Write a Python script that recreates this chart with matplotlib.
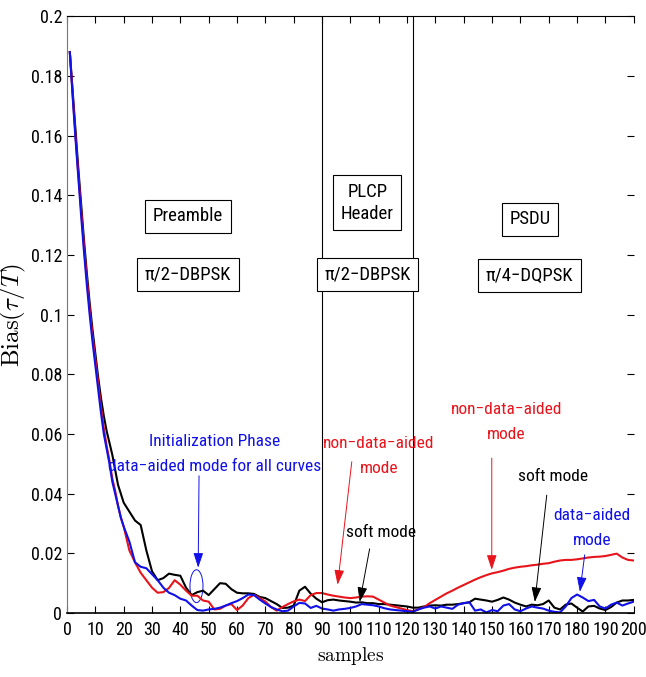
import numpy as np
import matplotlib
matplotlib.use("Agg")
import matplotlib.pyplot as plt
from matplotlib.patches import Ellipse
from matplotlib import font_manager

# a narrow face if one is there, else plain Liberation Sans
installed = {f.name for f in font_manager.fontManager.ttflist}
narrow = [f for f in ['Roboto Condensed', 'Liberation Sans Narrow', 'Open Sans Condensed'] if f in installed]
plt.rcParams['font.family'] = narrow + ['Liberation Sans', 'DejaVu Sans']
plt.rcParams['mathtext.fontset'] = 'cm'
fs = 12.5 if narrow else 11

# sample positions
samples = list(range(1, 21)) + list(range(22, 201, 2))

# soft mode (black)
soft = [0.188, 0.175, 0.162, 0.149, 0.137, 0.125, 0.114, 0.104, 0.095, 0.087,
        0.079, 0.072, 0.066, 0.061, 0.057, 0.053, 0.048, 0.043, 0.040, 0.037,
        0.034, 0.031, 0.0295, 0.021, 0.014, 0.011, 0.0117, 0.0132, 0.0128, 0.0125,
        0.0085, 0.006, 0.007, 0.0075, 0.006, 0.008, 0.010, 0.0098, 0.008, 0.0068,
        0.0066, 0.0066, 0.0064, 0.0054, 0.005, 0.004, 0.003, 0.0017, 0.0018, 0.0025,
        0.0075, 0.0088, 0.0065, 0.0048, 0.0036, 0.0043, 0.0045, 0.0042, 0.004, 0.0038,
        0.0035, 0.0036, 0.0033, 0.0033, 0.003, 0.003, 0.0028, 0.0026, 0.0024, 0.0022,
        0.0018, 0.0018, 0.0022, 0.0025, 0.0026, 0.0025, 0.0028, 0.0028, 0.003, 0.0033,
        0.0036, 0.0048, 0.0045, 0.0042, 0.0038, 0.0044, 0.0052, 0.0045, 0.0035, 0.0028,
        0.0022, 0.0028, 0.0026, 0.003, 0.0042, 0.0018, 0.0012, 0.0028, 0.0032, 0.0018,
        0.0005, 0.0022, 0.0024, 0.0015, 0.001, 0.002, 0.0035, 0.0042, 0.0042, 0.0044]

# non-data-aided mode (red)
nda = [0.188, 0.174, 0.160, 0.147, 0.135, 0.123, 0.112, 0.102, 0.093, 0.085,
       0.077, 0.069, 0.062, 0.056, 0.051, 0.045, 0.041, 0.036, 0.032, 0.029,
       0.021, 0.017, 0.0135, 0.011, 0.0085, 0.0068, 0.007, 0.0084, 0.011, 0.0095,
       0.0075, 0.0058, 0.0058, 0.0042, 0.0038, 0.0012, 0.0014, 0.0025, 0.003, 0.001,
       0.0025, 0.005, 0.0061, 0.005, 0.0039, 0.002, 0.0008, 0.002, 0.003, 0.0039,
       0.0045, 0.004, 0.006, 0.0067, 0.0067, 0.0062, 0.0058, 0.0055, 0.0052, 0.005,
       0.0052, 0.0055, 0.0056, 0.0055, 0.0045, 0.0035, 0.0025, 0.002, 0.0015, 0.001,
       0.0006, 0.0012, 0.002, 0.0033, 0.0044, 0.0055, 0.0066, 0.0075, 0.0085, 0.0094,
       0.0103, 0.0112, 0.012, 0.0127, 0.0133, 0.0137, 0.0142, 0.0148, 0.0152, 0.0155,
       0.0157, 0.016, 0.0162, 0.0165, 0.0167, 0.0172, 0.0176, 0.0178, 0.0178, 0.018,
       0.0183, 0.0186, 0.0188, 0.0189, 0.0191, 0.0195, 0.0199, 0.0186, 0.0178, 0.0176]

# data-aided mode (blue)
da = [0.188, 0.173, 0.159, 0.146, 0.133, 0.121, 0.110, 0.100, 0.091, 0.083,
      0.075, 0.067, 0.060, 0.055, 0.050, 0.044, 0.040, 0.036, 0.032, 0.029,
      0.024, 0.017, 0.0155, 0.015, 0.013, 0.011, 0.0085, 0.0068, 0.006, 0.0048,
      0.0042, 0.0025, 0.001, 0.0008, 0.0012, 0.0014, 0.0018, 0.0025, 0.0033, 0.004,
      0.005, 0.0062, 0.006, 0.0045, 0.0032, 0.002, 0.0012, 0.0006, 0.0008, 0.0022,
      0.0034, 0.0032, 0.0017, 0.0024, 0.0015, 0.0012, 0.0008, 0.0012, 0.0014, 0.0017,
      0.0022, 0.003, 0.0028, 0.0026, 0.0022, 0.0016, 0.0012, 0.001, 0.0008, 0.0006,
      0.0004, 0.0012, 0.0018, 0.0022, 0.0015, 0.0022, 0.0018, 0.0014, 0.0028, 0.0033,
      0.0036, 0.0008, 0.0012, 0.0002, 0.001, 0.0006, 0.0025, 0.003, 0.0012, 0.0006,
      0.0015, 0.0022, 0.0018, 0.0015, 0.0008, 0.0004, 0.0002, 0.0022, 0.005, 0.0062,
      0.0052, 0.004, 0.0044, 0.0022, 0.0015, 0.0028, 0.0035, 0.0025, 0.0032, 0.0038]

xticks = list(range(0, 201, 10))
yticks = [0, 0.02, 0.04, 0.06, 0.08, 0.1, 0.12, 0.14, 0.16, 0.18, 0.2]
ylabels = ['0', '0.02', '0.04', '0.06', '0.08', '0.1', '0.12', '0.14', '0.16', '0.18', '0.2']
boundaries = [90, 122]

RED = '#e8141b'
BLUE = '#1010e8'

fig = plt.figure(figsize=(6.46, 6.77), dpi=100)
ax = fig.add_axes([0.1037, 0.0945, 0.8773, 0.8815])

ax.plot(samples, soft, color='black', lw=1.5)
ax.plot(samples, nda, color=RED, lw=1.5)
ax.plot(samples, da, color=BLUE, lw=1.5)

for b in boundaries:
    ax.axvline(b, color='black', lw=0.8)

ax.set_xlim(0, 200)
ax.set_ylim(0, 0.2)
ax.set_xticks(xticks)
ax.set_yticks(yticks)
ax.set_yticklabels(ylabels)
ax.tick_params(direction='in', top=True, right=True, labelsize=13, length=5, width=0.8)
ax.tick_params(axis='x', pad=6)
ax.spines['right'].set_visible(False)
ax.spines['left'].set_color('#777777')
ax.spines['top'].set_linewidth(0.8)
ax.spines['bottom'].set_linewidth(1.2)

ax.set_xlabel(r'$\mathrm{samples}$', fontsize=14, labelpad=4)
ax.set_ylabel(r'$\mathrm{Bias}(\tau/T)$', fontsize=18, labelpad=2)

bfs = 13.5 if narrow else 11.5
box = dict(boxstyle='square,pad=0.4', fc='white', ec='black', lw=0.8)
ax.text(42.7, 0.133, 'Preamble', ha='center', va='center', fontsize=bfs, bbox=box)
ax.text(42.7, 0.1135, '\u03c0/2\u2212DBPSK', ha='center', va='center', fontsize=bfs, bbox=box)
ax.text(106, 0.1375, 'PLCP\nHeader', ha='center', va='center', fontsize=bfs, bbox=box,
        linespacing=1.3)
ax.text(106, 0.1135, '\u03c0/2\u2212DBPSK', ha='center', va='center', fontsize=bfs, bbox=box)
ax.text(163.3, 0.132, 'PSDU', ha='center', va='center', fontsize=bfs, bbox=box)
ax.text(163.3, 0.113, '\u03c0/4\u2212DQPSK', ha='center', va='center', fontsize=bfs, bbox=box)

head = '-|>,head_length=0.9,head_width=0.3'
ls = 1.9

ax.text(52, 0.0533, 'Initialization Phase\ndata\u2212aided mode for all curves',
        color=BLUE, ha='center', va='center', fontsize=fs, linespacing=ls)
ax.annotate('', xy=(46.3, 0.0152), xytext=(46.6, 0.046),
            arrowprops=dict(arrowstyle=head, color=BLUE, lw=0.7, shrinkA=0, shrinkB=0))
ax.add_patch(Ellipse((45.7, 0.009), 4.6, 0.011, fill=False, ec=BLUE, lw=0.7))

ax.text(110, 0.0526, 'non\u2212data\u2212aided\nmode', color=RED, ha='center',
        va='center', fontsize=fs, linespacing=ls)
ax.annotate('', xy=(95.5, 0.0095), xytext=(100.5, 0.0507),
            arrowprops=dict(arrowstyle=head, color=RED, lw=0.7, shrinkA=0, shrinkB=0))

ax.text(110.8, 0.027, 'soft mode', color='black', ha='center', va='center', fontsize=fs)
ax.annotate('', xy=(103.3, 0.0037), xytext=(106.8, 0.0215),
            arrowprops=dict(arrowstyle=head, color='black', lw=0.7, shrinkA=0, shrinkB=0))

ax.text(155, 0.064, 'non\u2212data\u2212aided\nmode', color=RED, ha='center',
        va='center', fontsize=fs, linespacing=ls)
ax.annotate('', xy=(149.9, 0.0145), xytext=(149.9, 0.0519),
            arrowprops=dict(arrowstyle=head, color=RED, lw=0.7, shrinkA=0, shrinkB=0))

ax.text(171.5, 0.0458, 'soft mode', color='black', ha='center', va='center', fontsize=fs)
ax.annotate('', xy=(165.1, 0.0037), xytext=(169.3, 0.0395),
            arrowprops=dict(arrowstyle=head, color='black', lw=0.7, shrinkA=0, shrinkB=0))

ax.text(185.3, 0.0285, 'data\u2212aided\nmode', color=BLUE, ha='center',
        va='center', fontsize=fs, linespacing=ls)
ax.annotate('', xy=(181, 0.0071), xytext=(182.7, 0.0195),
            arrowprops=dict(arrowstyle=head, color=BLUE, lw=0.7, shrinkA=0, shrinkB=0))

fig.savefig('out.png', dpi=100)
